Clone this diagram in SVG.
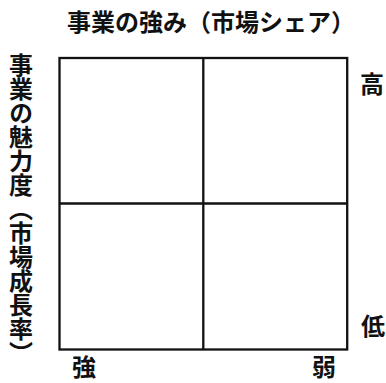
<svg xmlns="http://www.w3.org/2000/svg" width="386" height="383" viewBox="0 0 386 383">
<style>
.t{font-family:"Noto Sans CJK JP","Noto Sans CJK SC",sans-serif;font-size:24px;font-weight:700;fill:#111}
.ln{fill:none;stroke:#111;stroke-width:2.3}
</style>
<rect width="386" height="383" fill="#fff"/>
<g id="grid">
<rect class="ln" x="59.5" y="58" width="287.7" height="291.5"/>
<g id="dividers">
<line class="ln" x1="203.3" y1="58" x2="203.3" y2="349.5"/>
<line class="ln" x1="59.5" y1="203.5" x2="347.2" y2="203.5"/>
</g>
</g>
<g id="title-x"><text class="t" x="211" y="31" text-anchor="middle">事業の強み（市場シェア）</text></g>
<g id="title-y"><text class="t" x="21" y="53" style="writing-mode:vertical-rl">事業の魅力度（市場成長率）</text></g>
<g id="label-high"><text class="t" x="360" y="93">高</text></g>
<g id="label-low"><text class="t" x="361" y="335">低</text></g>
<g id="label-strong"><text class="t" x="72" y="375.5">強</text></g>
<g id="label-weak"><text class="t" x="312" y="375.5">弱</text></g>
</svg>
